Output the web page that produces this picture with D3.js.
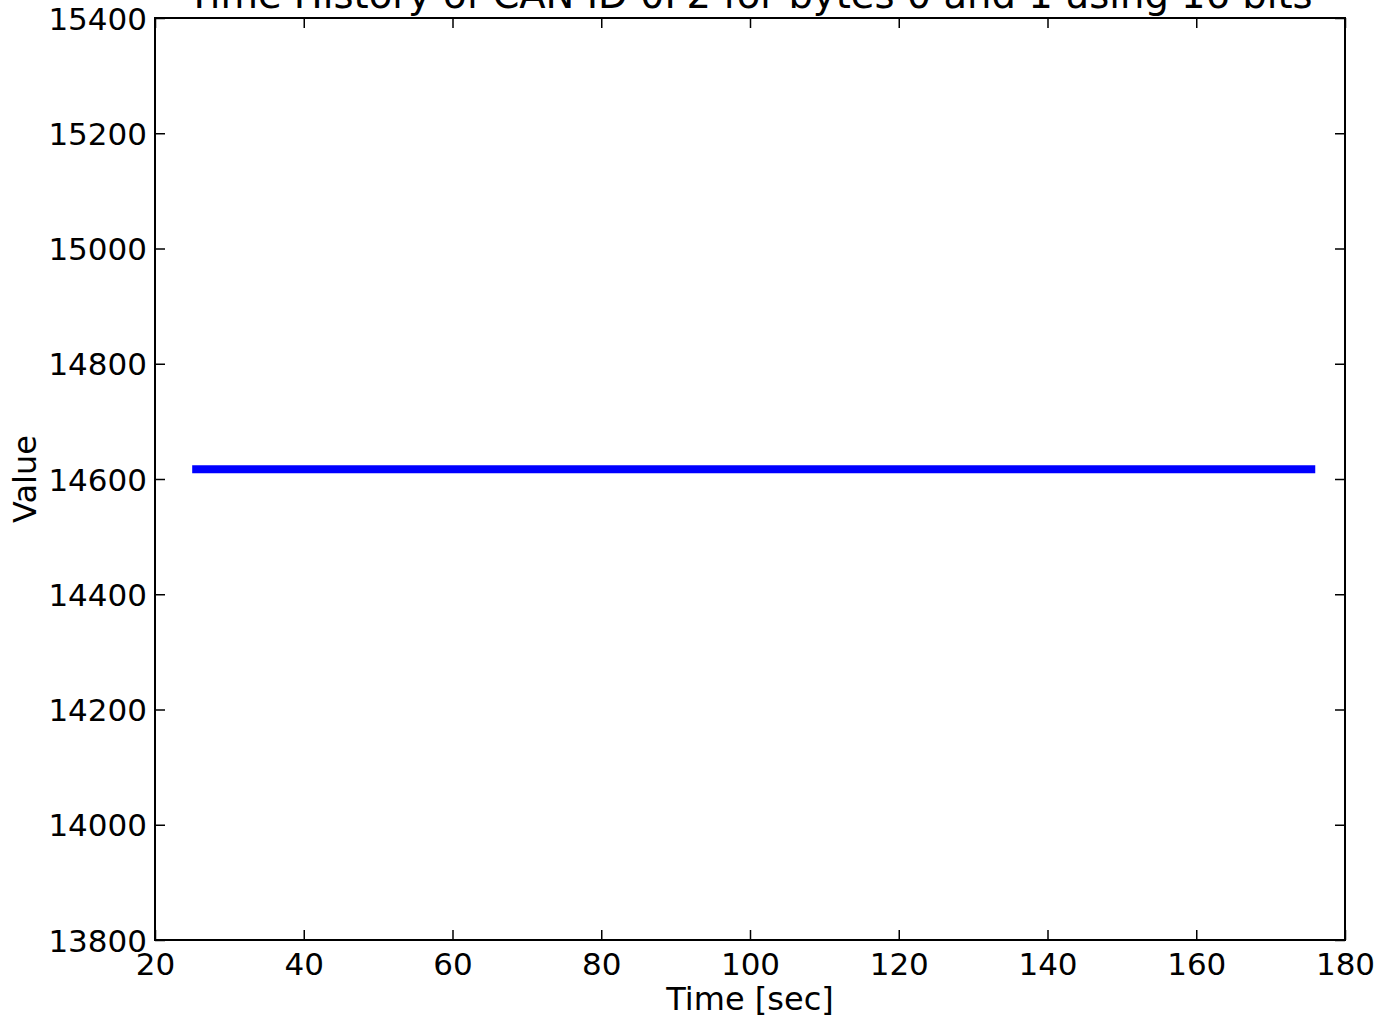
<!DOCTYPE html>
<html>
<head>
<meta charset="utf-8">
<script src="https://cdn.jsdelivr.net/npm/d3@7"></script>
<style>
  html, body { margin: 0; padding: 0; background: #fff; }
  svg text { font-family: "DejaVu Sans", sans-serif; fill: #000; }
</style>
</head>
<body>
<svg id="chart" width="1384" height="1020"></svg>
<script>
const titleText = "Time History of CAN ID 0F2 for bytes 0 and 1 using 16 bits";
const xLabel = "Time [sec]";
const yLabel = "Value";
const timeValues = [25.0, 176.0];
const signalValues = [14617, 14617];
const xTicks = [20, 40, 60, 80, 100, 120, 140, 160, 180];
const yTicks = [13800, 14000, 14200, 14400, 14600, 14800, 15000, 15200, 15400];

(function () {
const svg = d3.select("#chart");
const pL = 155, pR = 1345, pT = 18, pB = 940;
const x = d3.scaleLinear().domain([20, 180]).range([pL, pR]);
const y = d3.scaleLinear().domain([13800, 15400]).range([pB, pT]);

const data = timeValues.map((t, i) => ({t, v: signalValues[i]}));

svg.append("path")
  .datum(data)
  .attr("fill", "none")
  .attr("stroke", "#0000ff")
  .attr("stroke-width", 8)
  .attr("stroke-linecap", "butt")
  .attr("d", d3.line().x(d => x(d.t)).y(d => y(d.v)));

const tickLen = 10;
const fs = 31;

const gB = svg.append("g").attr("transform", `translate(0,${pB})`)
  .call(d3.axisBottom(x).tickValues(xTicks).tickSize(-tickLen).tickFormat(d3.format("d")));
const gT = svg.append("g").attr("transform", `translate(0,${pT})`)
  .call(d3.axisTop(x).tickValues(xTicks).tickSize(-tickLen).tickFormat(""));
const gL = svg.append("g").attr("transform", `translate(${pL},0)`)
  .call(d3.axisLeft(y).tickValues(yTicks).tickSize(-tickLen).tickFormat(d3.format("d")));
const gR = svg.append("g").attr("transform", `translate(${pR},0)`)
  .call(d3.axisRight(y).tickValues(yTicks).tickSize(-tickLen).tickFormat(""));

[gB, gT, gL, gR].forEach(g => {
  g.select(".domain").remove();
  g.selectAll(".tick line").attr("stroke", "#000").attr("stroke-width", 1.5);
  g.selectAll(".tick text").attr("font-size", fs).attr("font-family", "DejaVu Sans").attr("fill", "#000");
});
gB.selectAll(".tick text").attr("dy", null).attr("y", 975);
gB.selectAll(".tick text").attr("y", 975 - pB);
gL.selectAll(".tick text").attr("x", -8).attr("dy", "0.36em");

svg.append("rect")
  .attr("x", pL).attr("y", pT)
  .attr("width", pR - pL).attr("height", pB - pT)
  .attr("fill", "none").attr("stroke", "#000").attr("stroke-width", 2);

svg.append("text")
  .attr("x", (pL + pR) / 2).attr("y", 1010)
  .attr("text-anchor", "middle").attr("font-size", 32)
  .text(xLabel);

svg.append("text")
  .attr("transform", `translate(36,${(pT + pB) / 2}) rotate(-90)`)
  .attr("text-anchor", "middle").attr("font-size", 32)
  .text(yLabel);

svg.append("text")
  .attr("x", (pL + pR) / 2).attr("y", 8)
  .attr("text-anchor", "middle").attr("font-size", 38.5)
  .text(titleText);
})();
</script>
</body>
</html>
